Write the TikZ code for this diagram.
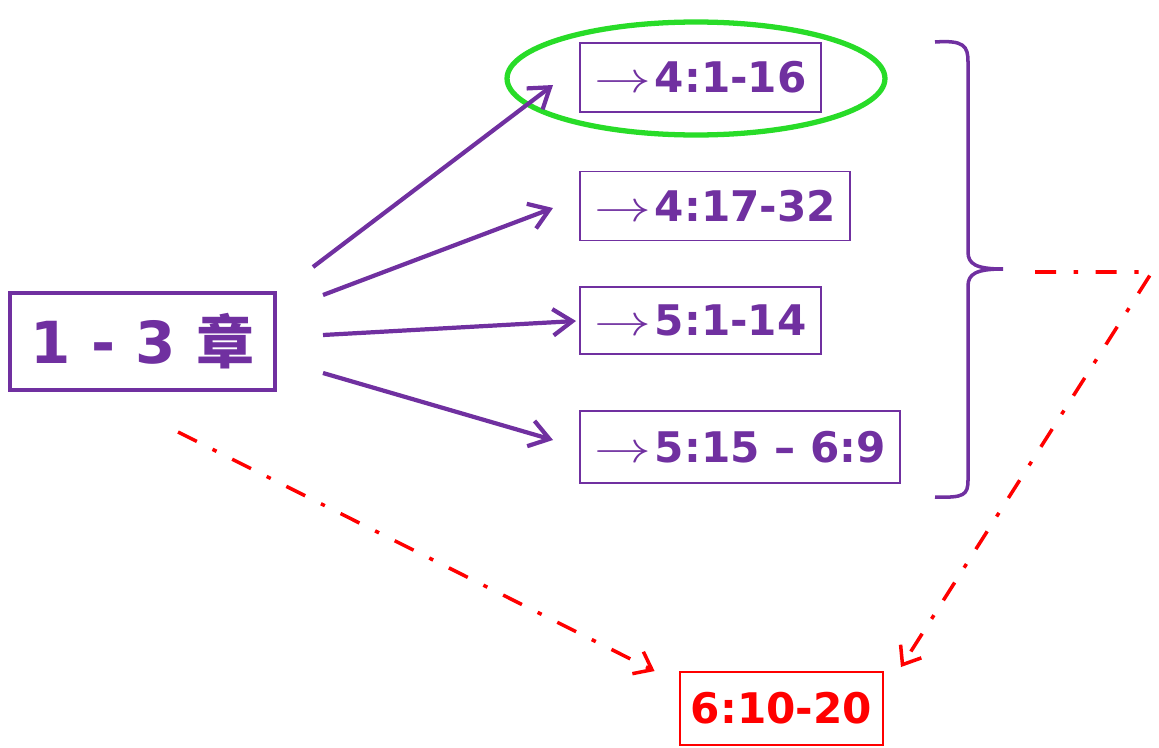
\documentclass[tikz,border=0pt]{standalone}
\usepackage{fontspec}
\setmainfont{DejaVu Sans}
\newfontfamily\cjk{Noto Sans CJK SC}
\usetikzlibrary{arrows.meta,calc,shapes.geometric}
\definecolor{plum}{RGB}{112,48,160}
\definecolor{marker}{RGB}{40,220,40}
\def\goto{\scalebox{1.3}[1]{$\rightarrow$}\kern2pt}
\tikzset{
	chapbox/.style={draw=plum, line width=2.3pt, text=plum, font=\fontsize{33}{38}\selectfont\bfseries, minimum width=5.3cm, minimum height=1.94cm, inner sep=0pt},
	versebox/.style={draw=plum, line width=1.1pt, text=plum, font=\fontsize{24}{28}\selectfont\bfseries, anchor=west, inner xsep=0.29cm, inner ysep=0pt, minimum height=1.38cm},
	goalbox/.style={draw=red, line width=1.1pt, text=red, font=\fontsize{24}{28}\selectfont\bfseries, minimum width=4.06cm, minimum height=1.46cm, inner sep=0pt},
	fan/.style={draw=plum, line width=2.4pt, -{Straight Barb[length=11pt,width=15pt]}},
	jump/.style={draw=red, line width=2pt, dash pattern=on 12pt off 10pt on 2.5pt off 10pt, -{Straight Barb[length=9pt,width=14pt]}},
	ring/.style={draw=marker, ellipse, line width=3pt, minimum width=7.56cm, minimum height=2.26cm, inner sep=0pt}
}

\begin{document}
\begin{tikzpicture}[x=0.02cm, y=-0.02cm]
		%%%%% START %%%%%
		\useasboundingbox (0, 0) rectangle (1159, 747);
		
		\node[chapbox] (chap) at (142.5, 341.5) {1 - 3 {\cjk 章}};
		
		\node[versebox] (v1) at (579, 77.5) {\goto 4:1-16};
		\node[versebox] (v2) at (579, 206) {\goto 4:17-32};
		\node[versebox, minimum height=1.34cm] (v3) at (579, 320.5) {\goto 5:1-14};
		\node[versebox, minimum height=1.44cm] (v4) at (579, 447) {\goto 5:15 -- 6:9};
		
		\node[ring] (hl) at (696, 78.5) {};
		
		\node[goalbox] (goal) at (781.5, 708.5) {6:10-20};
		
		\coordinate (s1) at (313, 267);
		\coordinate (s2) at (323, 295);
		\coordinate (s3) at (323, 335);
		\coordinate (s4) at (323, 373);
		
		\draw[fan] (s1) -- ($(v1.west)+(-26, 7.5)$);
		\draw[fan] (s2) -- ($(v2.west)+(-26, 2)$);
		\draw[fan] (s3) -- ($(v3.west)+(-3, 0.5)$);
		\draw[fan] (s4) -- ($(v4.west)+(-26, -7)$);
		
		% brace
		\coordinate (brtop) at (935, 42);
		\coordinate (brtip) at (1003, 269);
		\coordinate (brbot) at (935, 497);
		\draw[plum, line width=2pt] (brtop) .. controls (964, 40) and (968, 46) .. (968, 62) -- (968, 252)
			.. controls (968, 264) and (976, 269) .. (brtip)
			.. controls (976, 269) and (968, 274) .. (968, 286) -- (968, 480)
			.. controls (968, 495) and (964, 498) .. (brbot);
		
		\coordinate (r0) at (178, 432);
		\coordinate (r1) at (1035, 272);
		\coordinate (r2) at (1152, 272);
		\draw[jump] (r0) -- ($(goal.north west)+(-24.5, 0)$);
		\draw[jump] (r1) -- (r2) -- ($(goal.north east)+(17, -4)$);
		
		%%%%% END %%%%%
	\end{tikzpicture}
\end{document}
